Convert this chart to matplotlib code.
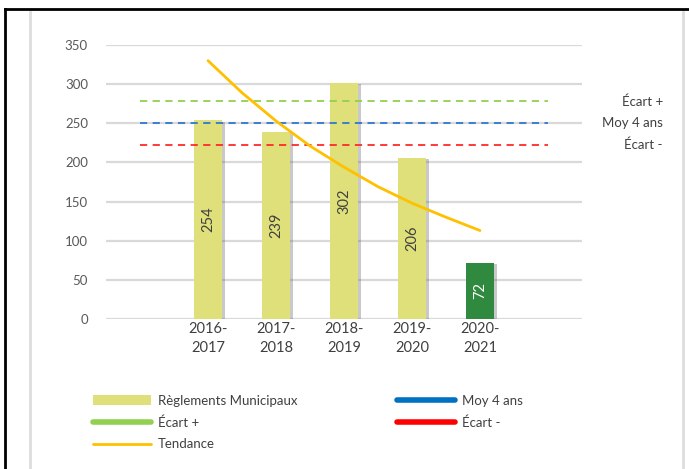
import matplotlib
matplotlib.use("Agg")
from matplotlib import pyplot as plt
from matplotlib import patheffects as pe
from matplotlib.lines import Line2D
from matplotlib.patches import Patch

plt.rcParams['font.family'] = ['Lato', 'DejaVu Sans']

# données
categories = ["", "2016-\n2017", "2017-\n2018", "2018-\n2019", "2019-\n2020", "2020-\n2021", ""]
reglements = [254, 239, 302, 206, 72]
moy_4_ans = 250
ecart_plus = 278
ecart_moins = 222
# tendance (positions en catégories)
tendance_x = [1, 1.5, 2, 2.5, 3, 3.5, 4, 4.5, 5]
tendance_y = [330, 289, 253, 221, 194, 169, 148, 130, 113]

col_bar = "#dfe07a"
col_last = "#2f8a3f"
col_green = "#92d050"
col_blue = "#2f78d0"
col_red = "#ff2a2a"
col_trend = "#ffc000"
col_txt = "#595959"

fig = plt.figure(figsize=(6.89, 4.69), dpi=100)
ax = fig.add_axes([106 / 689, 1 - 319 / 469, 476 / 689, 274 / 469])

x_all = list(range(len(categories)))
x_bars = x_all[1:6]

bar_colors = [col_bar] * 4 + [col_last]
bars = ax.bar(x_bars, reglements, width=0.4, color=bar_colors, zorder=2,
              path_effects=[pe.SimplePatchShadow(offset=(2.5, -1), shadow_rgbFace="#666666", alpha=0.35),
                            pe.Normal()])

for b, v, c in zip(bars, reglements, bar_colors):
    ax.text(b.get_x() + b.get_width() / 2, v / 2, str(v), rotation=90,
            ha="center", va="center", fontsize=10.5,
            color="white" if c == col_last else "#404040", zorder=4)

ls = (0, (4, 3))
ax.plot([x_all[0], x_all[-1]], [ecart_plus] * 2, color=col_green, lw=1.3, ls=ls, zorder=3)
ax.plot([x_all[0], x_all[-1]], [moy_4_ans] * 2, color=col_blue, lw=1.3, ls=ls, zorder=3)
ax.plot([x_all[0], x_all[-1]], [ecart_moins] * 2, color=col_red, lw=1.3, ls=ls, zorder=3)
ax.plot(tendance_x, tendance_y, color=col_trend, lw=2, zorder=5, solid_capstyle="round")

# étiquettes à droite
tr = ax.get_yaxis_transform()
for val, lab in [(ecart_plus, "Écart +"), (moy_4_ans, "Moy 4 ans"), (ecart_moins, "Écart -")]:
    ax.text((663 - 106) / 476, val, lab, transform=tr, ha="right", va="center",
            fontsize=9.5, color="#404040", clip_on=False)

ax.set_xlim(-0.5, 6.5)
ax.set_ylim(0, 350)
ax.set_yticks(range(0, 351, 50))
ax.set_xticks(x_all)
ax.set_xticklabels(categories, fontsize=10.5, color="#404040", linespacing=1.45)
ax.tick_params(axis="y", length=0, pad=13, labelsize=9.5, labelcolor=col_txt)
ax.tick_params(axis="x", length=0, pad=2)
ax.yaxis.grid(True, color="#d9d9d9", lw=1.6, zorder=0)
ax.set_axisbelow(True)
for s in ax.spines.values():
    s.set_visible(False)

# légende
handles = [
    Patch(facecolor=col_bar, edgecolor="none"),
    Line2D([], [], color=col_green, lw=4, solid_capstyle="round"),
    Line2D([], [], color=col_trend, lw=2, solid_capstyle="round"),
    Line2D([], [], color="#0070c0", lw=4, solid_capstyle="round"),
    Line2D([], [], color="#ff0000", lw=4, solid_capstyle="round"),
]
labels = ["Règlements Municipaux", "Écart +", "Tendance", "Moy 4 ans", "Écart -"]
fig.legend(handles, labels, loc="upper left", bbox_to_anchor=(81 / 689, 1 - 383 / 469),
           ncol=2, frameon=False, fontsize=9.5, handlelength=4.4, handleheight=0.8,
           handletextpad=0.5, labelspacing=0.72, columnspacing=7.6, labelcolor="#404040")

# cadre
fig.add_artist(Line2D([5 / 689, 1], [1 - 9 / 469] * 2, color="black", lw=2, transform=fig.transFigure))
fig.add_artist(Line2D([5 / 689] * 2, [0, 1 - 9 / 469], color="black", lw=2, transform=fig.transFigure))
fig.add_artist(Line2D([30 / 689] * 2, [0, 1 - 12 / 469], color="#dddddd", lw=2, transform=fig.transFigure))
fig.add_artist(Line2D([683 / 689] * 2, [0, 1 - 12 / 469], color="#dddddd", lw=2, transform=fig.transFigure))

fig.savefig("out.png", dpi=100, facecolor="white")
